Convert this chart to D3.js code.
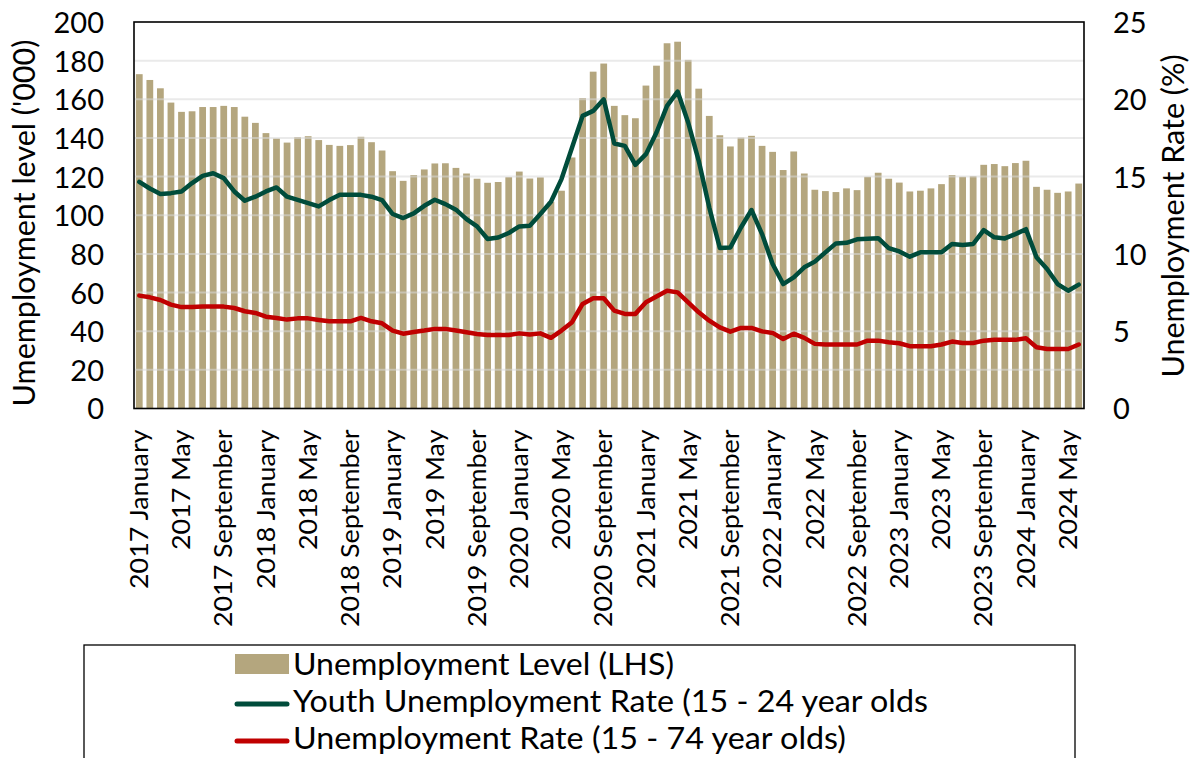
<!DOCTYPE html>
<html><head><meta charset="utf-8">
<script src="https://cdn.jsdelivr.net/npm/d3@7"></script>
<style>html,body{margin:0;padding:0;background:#fff;}svg{display:block;font-family:Lato,sans-serif;}</style>
</head><body>
<svg id="c" width="1195" height="758"></svg>
<script>
const monthNames = ["January","February","March","April","May","June","July","August","September","October","November","December"];
const years = [2017,2018,2019,2020,2021,2022,2023,2024];
const categories = [];
years.forEach(y => monthNames.forEach((m,i) => { if (y < 2024 || i < 6) categories.push(y + " " + m); }));

const unemploymentLevel = [
 173,170,165.7,158.3,153.5,153.8,156,156,156.6,156,151,147.8,
 142.5,139.7,137.6,140.4,140.9,138.9,136.4,135.9,136.3,140.6,137.8,133.5,
 122.8,117.8,120.8,123.7,126.8,126.9,124.5,121.6,118.9,116.8,117.2,119.7,
 122.6,119,119.6,107,112.7,129.9,160.6,174.3,178.5,156.6,151.8,150.2,
 167.1,177.4,189,189.8,180.4,165.5,151.4,141.4,135.6,140.2,141.1,135.9,
 132.8,123.4,133,121.6,113.2,112.5,112,113.9,113,119.9,122,118.9,
 116.9,112.3,112.7,113.9,116.1,120.8,119.9,120.2,126.1,126.5,125.4,127,
 128.2,114.7,113.2,111.6,112.3,116.4
];
const youthRate = [
 14.66,14.23,13.87,13.93,14.04,14.58,15.05,15.22,14.9,14.04,13.44,13.7,
 14.04,14.3,13.7,13.5,13.29,13.07,13.48,13.82,13.82,13.82,13.7,13.48,
 12.58,12.32,12.62,13.11,13.5,13.22,12.86,12.25,11.78,10.96,11.06,11.35,
 11.78,11.82,12.58,13.37,14.84,16.88,18.93,19.25,20.0,17.14,16.99,15.76,
 16.45,17.85,19.57,20.5,18.5,16.02,13.0,10.38,10.42,11.71,12.84,11.28,
 9.35,8.05,8.48,9.13,9.5,10.1,10.68,10.72,10.94,10.98,11.02,10.38,
 10.16,9.82,10.1,10.1,10.1,10.64,10.57,10.64,11.54,11.07,11.0,11.28,
 11.6,9.78,9.02,8.05,7.62,8.01
];
const overallRate = [
 7.3,7.19,7.02,6.72,6.56,6.56,6.59,6.59,6.59,6.5,6.29,6.18,
 5.94,5.86,5.75,5.83,5.83,5.73,5.64,5.64,5.64,5.86,5.64,5.51,
 5.04,4.84,4.95,5.04,5.15,5.15,5.04,4.93,4.82,4.76,4.76,4.76,
 4.86,4.78,4.86,4.57,5.04,5.58,6.76,7.13,7.13,6.33,6.12,6.12,
 6.87,7.24,7.62,7.51,6.87,6.22,5.68,5.25,4.97,5.21,5.21,4.99,
 4.89,4.5,4.84,4.57,4.18,4.14,4.14,4.14,4.14,4.39,4.39,4.28,
 4.22,4.03,4.03,4.03,4.14,4.33,4.24,4.24,4.39,4.44,4.44,4.44,
 4.54,3.96,3.85,3.85,3.85,4.14
];
const leftTicks = [0,20,40,60,80,100,120,140,160,180,200];
const rightTicks = [0,5,10,15,20,25];
const legendLabels = ["Unemployment Level (LHS)","Youth Unemployment Rate (15 - 24 year olds","Unemployment Rate (15 - 74 year olds)"];

const colors = {bar:"#b4a67e", youth:"#004c3b", overall:"#c00000", grid:"#d9d9d9"};
const M = {left:134, right:1084, top:22, bottom:408.5};

const svg = d3.select("#c");
const x = d3.scaleBand().domain(categories).range([M.left, M.right]).paddingInner(0.36).paddingOuter(0.18);
const yL = d3.scaleLinear().domain([0,200]).range([M.bottom, M.top]);
const yR = d3.scaleLinear().domain([0,25]).range([M.bottom, M.top]);

// bars
svg.append("g").selectAll("rect").data(unemploymentLevel).join("rect")
  .attr("x",(d,i)=>x(categories[i])).attr("width",x.bandwidth())
  .attr("y",d=>yL(d)).attr("height",d=>yL(0)-yL(d)).attr("fill",colors.bar);

// gridlines (over bars, semi-transparent)
svg.append("g").selectAll("line").data(leftTicks.filter(t=>t>0&&t<200)).join("line")
  .attr("x1",M.left).attr("x2",M.right).attr("y1",d=>yL(d)).attr("y2",d=>yL(d))
  .attr("stroke",colors.grid).attr("stroke-width",2).attr("opacity",0.55);

// lines
const cx = i => x(categories[i]) + x.bandwidth()/2;
const lineL = d3.line().x((d,i)=>cx(i)).y(d=>yR(d)).curve(d3.curveLinear);
svg.append("path").datum(overallRate).attr("d",lineL).attr("fill","none")
  .attr("stroke",colors.overall).attr("stroke-width",4.5).attr("stroke-linejoin","round").attr("stroke-linecap","round");
svg.append("path").datum(youthRate).attr("d",lineL).attr("fill","none")
  .attr("stroke",colors.youth).attr("stroke-width",4.5).attr("stroke-linejoin","round").attr("stroke-linecap","round");

// frame
svg.append("rect").attr("x",M.left).attr("y",M.top).attr("width",M.right-M.left).attr("height",M.bottom-M.top)
  .attr("fill","none").attr("stroke","#000").attr("stroke-width",1.6);

// left axis
const axL = svg.append("g").attr("transform",`translate(${M.left},0)`)
  .call(d3.axisLeft(yL).tickValues(leftTicks).tickSize(0).tickPadding(30));
axL.select(".domain").remove();
axL.selectAll("text").attr("font-family","Lato").attr("font-size",29).attr("fill","#000").attr("dy","0.36em");

// right axis
const axR = svg.append("g").attr("transform",`translate(${M.right},0)`)
  .call(d3.axisRight(yR).tickValues(rightTicks).tickSize(0).tickPadding(29));
axR.select(".domain").remove();
axR.selectAll("text").attr("font-family","Lato").attr("font-size",29).attr("fill","#000").attr("dy","0.36em");

// x axis
const xTickVals = categories.filter((c,i)=>i%4===0);
const axX = svg.append("g").attr("transform",`translate(0,${M.bottom})`)
  .call(d3.axisBottom(x).tickValues(xTickVals).tickSize(0).tickPadding(0));
axX.select(".domain").remove();
axX.selectAll("text").attr("font-family","Lato").attr("font-size",25).attr("fill","#000")
  .attr("text-anchor","end").attr("transform","translate(0,21) rotate(-90) scale(1.075,1)").attr("x",0).attr("y",0).attr("dy","0.35em");

// axis titles
svg.append("text").attr("transform","translate(35,223) rotate(-90)").attr("text-anchor","middle")
  .attr("font-size",30.5).attr("font-family","Lato").text("Umemployment level ('000)");
svg.append("text").attr("transform","translate(1184,216) rotate(-90)").attr("text-anchor","middle")
  .attr("font-size",30.5).attr("font-family","Lato").text("Unemployment Rate (%)");

// legend
svg.append("rect").attr("x",84).attr("y",645).attr("width",991).attr("height",130)
  .attr("fill","#fff").attr("stroke","#000").attr("stroke-width",1.3);
const lg = svg.append("g");
const lw = [381,635,553];
lg.append("rect").attr("x",235).attr("y",654).attr("width",54).attr("height",20).attr("fill",colors.bar);
lg.append("line").attr("x1",237).attr("x2",287).attr("y1",704).attr("y2",704).attr("stroke",colors.youth).attr("stroke-width",5).attr("stroke-linecap","round");
lg.append("line").attr("x1",237).attr("x2",287).attr("y1",741).attr("y2",741).attr("stroke",colors.overall).attr("stroke-width",5).attr("stroke-linecap","round");
legendLabels.forEach((t,i)=>{
  lg.append("text").attr("x",293).attr("y",675+i*37).attr("font-size",30).attr("font-family","Lato")
    .attr("textLength",lw[i]).attr("lengthAdjust","spacingAndGlyphs").text(t);
});
</script>
</body></html>
